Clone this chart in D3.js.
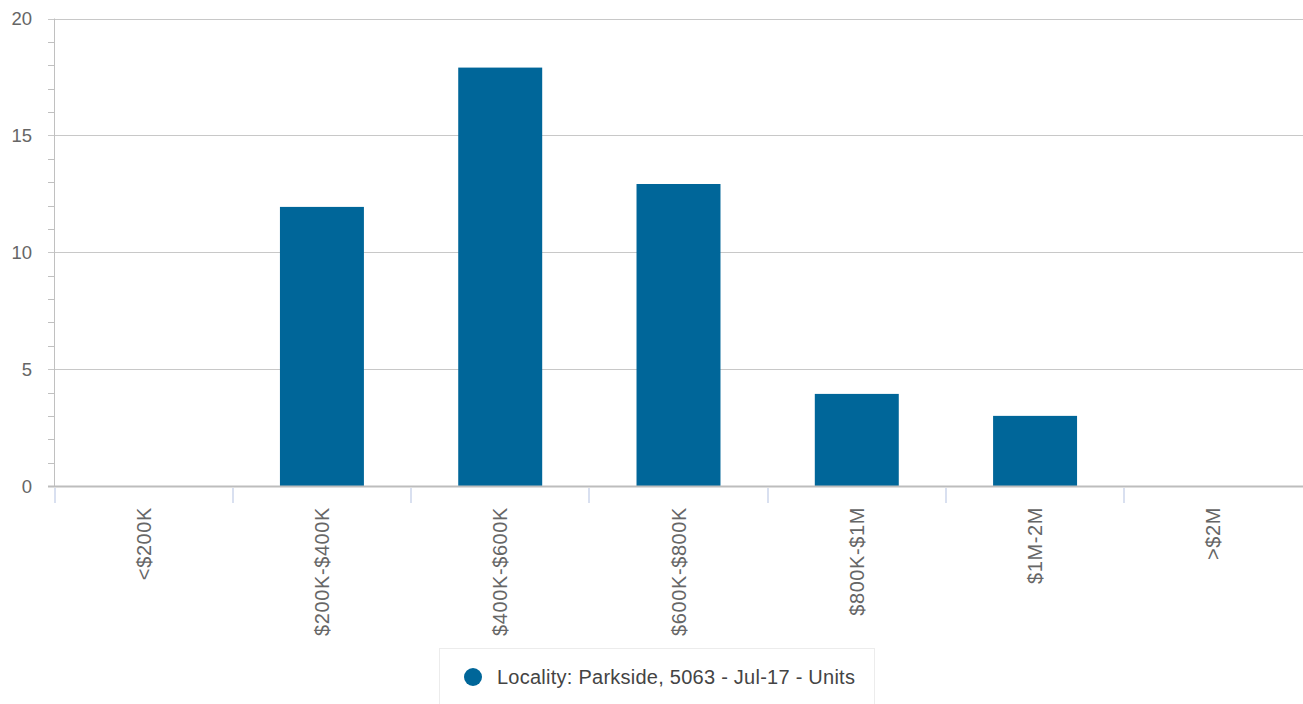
<!DOCTYPE html>
<html><head><meta charset="utf-8">
<script src="https://cdn.jsdelivr.net/npm/d3@7/dist/d3.min.js"></script>
<style>body{margin:0;background:#fff;font-family:"Liberation Sans",Arial,sans-serif}</style>
</head><body><svg id="c" width="1303" height="704"></svg>
<script>
const categories = ["<$200K","$200K-$400K","$400K-$600K","$600K-$800K","$800K-$1M","$1M-2M",">$2M"];
const values = [0,11.94,17.9,12.92,3.94,3,0];
const yTicks = [0,5,10,15,20];
const seriesName = "Locality: Parkside, 5063 - Jul-17 - Units";

const svg = d3.select("#c");
const pLeft = 54.5, pRight = 1302.5, pTop = 18.5, pBottom = 486;
const x = d3.scaleBand().domain(categories).range([pLeft, pRight]).paddingInner(0.529).paddingOuter(0.2645);
const y = d3.scaleLinear().domain([0,20]).range([pBottom, pTop]);
const step = x.step();

// gridlines
svg.append("g").selectAll("line").data(yTicks.filter(d=>d>0)).join("line")
  .attr("x1", 48).attr("x2", 1303).attr("y1", d=>Math.round(y(d))+0.5).attr("y2", d=>Math.round(y(d))+0.5)
  .attr("stroke","#c8c8c8").attr("stroke-width",1);
// minor ticks on y axis
svg.append("g").selectAll("line").data(d3.range(1,20).filter(d=>d%5!==0)).join("line")
  .attr("x1", 48).attr("x2", 54).attr("y1", d=>Math.round(y(d))+0.5).attr("y2", d=>Math.round(y(d))+0.5)
  .attr("stroke","#c0c0c0");
// y axis line
svg.append("line").attr("x1",54.5).attr("x2",54.5).attr("y1",pTop).attr("y2",pBottom)
  .attr("stroke","#c0c0c0");
// y labels
svg.append("g").selectAll("text").data(yTicks).join("text")
  .attr("x", 32).attr("y", d=>y(d)+6.5).attr("text-anchor","end")
  .attr("font-size",18.5).attr("fill","#666").text(d=>d);

// bars
svg.append("g").selectAll("rect").data(values).join("rect")
  .attr("x",(d,i)=>x(categories[i])).attr("width",x.bandwidth())
  .attr("y",d=>y(d)).attr("height",d=>pBottom-y(d)).attr("fill","#006699");

// x axis line
svg.append("line").attr("x1",48).attr("x2",1303).attr("y1",pBottom+0.5).attr("y2",pBottom+0.5)
  .attr("stroke","#bdbdbd").attr("stroke-width",2);
// x ticks
svg.append("g").selectAll("line").data(d3.range(categories.length)).join("line")
  .attr("x1",i=>Math.round(pLeft+i*step)).attr("x2",i=>Math.round(pLeft+i*step))
  .attr("y1",pBottom+2).attr("y2",pBottom+17).attr("stroke","#ccd6eb").attr("stroke-width",1.5);
// x labels
svg.append("g").selectAll("text").data(categories).join("text")
  .attr("transform",d=>`translate(${x(d)+x.bandwidth()/2+7},507) rotate(-90)`)
  .attr("text-anchor","end").attr("font-size",20).attr("letter-spacing",0.6).attr("fill","#666").text(d=>d);

// legend
const lg = svg.append("g");
lg.append("rect").attr("x",439.5).attr("y",648.5).attr("width",435).attr("height",60)
  .attr("fill","#fff").attr("stroke","#ececec");
lg.append("circle").attr("cx",473).attr("cy",677).attr("r",9).attr("fill","#006699");
lg.append("text").attr("x",497).attr("y",684).attr("font-size",20).attr("letter-spacing",0.25).attr("fill","#444").text(seriesName);
</script></body></html>
